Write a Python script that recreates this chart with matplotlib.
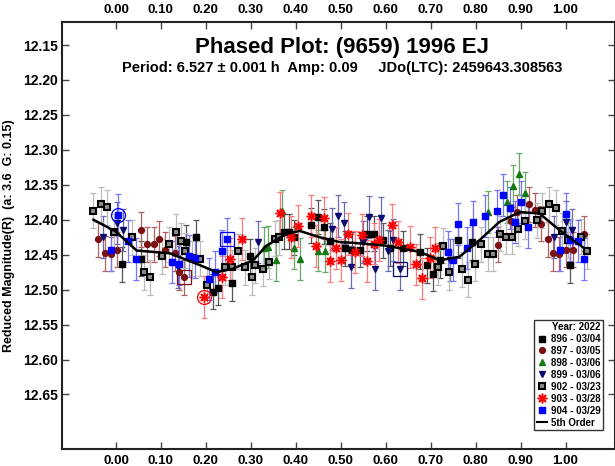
import matplotlib
matplotlib.use("Agg")
import matplotlib.pyplot as plt
from matplotlib.lines import Line2D

plt.rcParams['font.family'] = ['Liberation Sans', 'DejaVu Sans']
plt.rcParams['font.weight'] = 'bold'

# session 896 - 03/04
ph_896 = [0.013, 0.056, 0.156, 0.178, 0.216, 0.228, 0.258, 0.299, 0.373, 0.384, 0.395, 0.434, 0.449,
          0.462, 0.476, 0.51, 0.524, 0.543, 0.558, 0.573, 0.595, 0.61, 0.639, 0.676, 0.691, 0.706,
          0.721, 0.76, 0.791, 1.01]
mg_896 = [12.464, 12.456, 12.432, 12.425, 12.503, 12.497, 12.491, 12.452, 12.417, 12.417, 12.425, 12.408,
          12.396, 12.41, 12.43, 12.441, 12.443, 12.443, 12.42, 12.42, 12.429, 12.441, 12.441, 12.446,
          12.465, 12.477, 12.458, 12.429, 12.432, 12.465]
# session 897 - 03/05
ph_897 = [-0.04, -0.025, -0.012, 0.003, 0.056, 0.069, 0.084, 0.096, 0.11, 0.132, 0.14, 0.152,
          0.85, 0.878, 0.891, 0.918, 0.932, 0.945, 0.96, 0.973, 0.985, 1.0, 1.016, 1.041]
mg_897 = [12.428, 12.448, 12.449, 12.443, 12.414, 12.435, 12.435, 12.427, 12.443, 12.448, 12.475, 12.482,
          12.436, 12.402, 12.389, 12.378, 12.386, 12.406, 12.428, 12.448, 12.449, 12.443, 12.443, 12.42]
# session 898 - 03/06
ph_898 = [0.329, 0.339, 0.356, 0.37, 0.396, 0.409, 0.45, 0.465, 0.828, 0.869, 0.884, 0.897, 0.91]
mg_898 = [12.441, 12.439, 12.457, 12.387, 12.44, 12.456, 12.444, 12.445, 12.389, 12.374, 12.352, 12.335, 12.361]
# session 899 - 03/06
ph_899 = [-0.028, 0.003, 0.015, 0.138, 0.317, 0.481, 0.495, 0.508, 0.523, 0.55, 0.562, 0.576, 0.59,
          0.604, 0.617, 0.632, 0.743, 0.975, 1.002, 1.015]
mg_899 = [12.424, 12.405, 12.415, 12.468, 12.432, 12.413, 12.394, 12.405, 12.468, 12.432, 12.396, 12.47,
          12.398, 12.444, 12.429, 12.471, 12.458, 12.425, 12.403, 12.415]
# session 902 - 03/23
ph_902 = [-0.05, -0.033, -0.02, -0.005, 0.036, 0.062, 0.076, 0.102, 0.118, 0.133, 0.145, 0.153, 0.169,
          0.187, 0.202, 0.243, 0.258, 0.271, 0.286, 0.302, 0.31, 0.326, 0.341, 0.353, 0.362,
          0.717, 0.728, 0.74, 0.77, 0.784, 0.798, 0.812, 0.828, 0.839, 0.854, 0.867, 0.88, 0.895,
          0.91, 0.936, 0.948, 0.963, 0.978, 0.993, 1.006, 1.034, 1.047]
mg_902 = [12.387, 12.378, 12.382, 12.417, 12.425, 12.475, 12.482, 12.452, 12.435, 12.417, 12.43, 12.444, 12.455,
          12.456, 12.494, 12.468, 12.468, 12.445, 12.468, 12.482, 12.465, 12.47, 12.46, 12.427, 12.425,
          12.468, 12.437, 12.475, 12.471, 12.486, 12.463, 12.435, 12.449, 12.449, 12.42, 12.424, 12.424, 12.413,
          12.402, 12.401, 12.387, 12.378, 12.383, 12.416, 12.429, 12.424, 12.445]
# session 903 - 03/28
ph_903 = [0.196, 0.235, 0.254, 0.28, 0.364, 0.39, 0.406, 0.434, 0.445, 0.462, 0.475, 0.489, 0.501,
          0.516, 0.532, 0.547, 0.558, 0.573, 0.584, 0.613, 0.627, 0.654, 0.667, 0.68, 0.699, 0.71]
mg_903 = [12.51, 12.482, 12.456, 12.427, 12.39, 12.425, 12.409, 12.395, 12.437, 12.397, 12.459, 12.441, 12.458,
          12.42, 12.446, 12.422, 12.459, 12.434, 12.429, 12.408, 12.432, 12.439, 12.464, 12.484, 12.454, 12.441]
# session 904 - 03/29
ph_904 = [-0.01, 0.004, 0.027, 0.044, 0.124, 0.141, 0.163, 0.176, 0.208, 0.22, 0.235, 0.247,
          0.738, 0.75, 0.761, 0.78, 0.794, 0.82, 0.847, 0.861, 0.876, 0.887, 0.902, 0.917,
          0.987, 1.0, 1.009, 1.027, 1.042]
mg_904 = [12.443, 12.393, 12.43, 12.456, 12.461, 12.464, 12.452, 12.454, 12.485, 12.475, 12.444, 12.427,
          12.446, 12.458, 12.406, 12.441, 12.403, 12.395, 12.388, 12.365, 12.383, 12.403, 12.374, 12.41,
          12.443, 12.392, 12.429, 12.43, 12.456]

# typical error per session
err = {'896': 0.025, '897': 0.025, '898': 0.03, '899': 0.03, '902': 0.025, '903': 0.03, '904': 0.03}

# 5th order fit
fit_ph = [-0.05, 0.0, 0.046, 0.12, 0.187, 0.224, 0.26, 0.305, 0.335, 0.379, 0.409, 0.453, 0.498,
          0.527, 0.60, 0.676, 0.72, 0.764, 0.809, 0.853, 0.898, 0.942, 0.987, 1.016, 1.04]
fit_mg = [12.40, 12.417, 12.444, 12.448, 12.465, 12.475, 12.47, 12.458, 12.437, 12.42, 12.416, 12.425, 12.432,
          12.433, 12.437, 12.446, 12.458, 12.453, 12.429, 12.403, 12.389, 12.391, 12.415, 12.429, 12.44]

# highlighted points (circle / box)
circ_pts = [('904', 0.004, 12.393), ('903', 0.196, 12.51)]
box_pts = [('904', 0.247, 12.427), ('899', 0.632, 12.471), ('897', 0.152, 12.482)]

labels = ['896 - 03/04', '897 - 03/05', '898 - 03/06', '899 - 03/06', '902 - 03/23', '903 - 03/28', '904 - 03/29']
xticks = [0.0, 0.1, 0.2, 0.3, 0.4, 0.5, 0.6, 0.7, 0.8, 0.9, 1.0]
yticks = [12.15, 12.20, 12.25, 12.30, 12.35, 12.40, 12.45, 12.50, 12.55, 12.60, 12.65]

style = {
    '896': dict(marker='s', mfc='black', mec='black', ecolor='#555555', ms=4.6, mew=1),
    '897': dict(marker='o', mfc='#7a1010', mec='#7a1010', ecolor='#b06060', ms=4.2, mew=1),
    '898': dict(marker='^', mfc='#137a13', mec='#137a13', ecolor='#66aa66', ms=4.8, mew=1),
    '899': dict(marker='v', mfc='#0a0a70', mec='#0a0a70', ecolor='#6a6ab4', ms=4.8, mew=1),
    '902': dict(marker='s', mfc='#8c8c8c', mec='black', ecolor='#bbbbbb', ms=5, mew=1.5),
    '903': dict(marker=(8, 2, 0), mfc='red', mec='red', ecolor='#ff7a7a', ms=7, mew=1.1),
    '904': dict(marker='s', mfc='#0000ff', mec='#0000ff', ecolor='#7474ff', ms=4.6, mew=1),
}
data = [('896', ph_896, mg_896), ('897', ph_897, mg_897), ('898', ph_898, mg_898), ('899', ph_899, mg_899),
        ('902', ph_902, mg_902), ('903', ph_903, mg_903), ('904', ph_904, mg_904)]

fig = plt.figure(figsize=(6.15, 4.66), dpi=100)
ax = fig.add_axes([0.1008, 0.0365, 0.8992, 0.9163])

for key, ph, mg in data:
    s = style[key]
    ax.errorbar(ph, mg, yerr=err[key], fmt='none', ecolor=s['ecolor'], elinewidth=0.9,
                capsize=2.2, capthick=0.9, zorder=2)
for key, ph, mg in data:
    s = style[key]
    ax.plot(ph, mg, linestyle='none', marker=s['marker'], ms=s['ms'], mfc=s['mfc'],
            mec=s['mec'], mew=s['mew'], zorder=3)

for key, p, m in circ_pts:
    ax.plot(p, m, 'o', ms=10, mfc='none', mec=style[key]['mfc'], mew=0.9, zorder=3)
for key, p, m in box_pts:
    ax.plot(p, m, 's', ms=10, mfc='none', mec=style[key]['mfc'], mew=0.9, zorder=3)

ax.plot(fit_ph, fit_mg, color='black', lw=1.8, zorder=4)

ax.set_xlim(-0.12, 1.11)
ax.set_ylim(12.728, 12.117)
ax.set_xticks(xticks)
ax.set_xticklabels(['%.2f' % v for v in xticks])
ax.set_yticks(yticks)
ax.set_yticklabels(['%.2f' % v for v in yticks])
ax.tick_params(axis='x', direction='in', top=True, labeltop=True, length=5, width=1,
               labelsize=9.5, pad=4, color='#444444')
ax.tick_params(axis='y', direction='in', right=True, length=5, width=1, labelsize=10, pad=3,
               color='#444444')
for sp in ax.spines.values():
    sp.set_linewidth(1.5)
    sp.set_color('#222222')

for lab in ax.get_xticklabels() + ax.get_yticklabels():
    lab.set_fontweight('bold')

ax.set_ylabel('Reduced Magnitude(R)  (a: 3.6  G: 0.15)', fontsize=9, fontweight='bold')
ax.yaxis.set_label_coords(-0.085, 0.5)

ax.text(0.507, 0.941, 'Phased Plot: (9659) 1996 EJ', transform=ax.transAxes, ha='center', va='center',
        fontsize=16, fontweight='bold')
ax.text(0.507, 0.893, 'Period: 6.527 \u00b1 0.001 h  Amp: 0.09     JDo(LTC): 2459643.308563',
        transform=ax.transAxes, ha='center', va='center', fontsize=10.5, fontweight='bold')

handles = []
for key in ['896', '897', '898', '899', '902', '903', '904']:
    s = style[key]
    handles.append(Line2D([], [], linestyle='none', marker=s['marker'], ms=s['ms'], mfc=s['mfc'],
                          mec=s['mec'], mew=s['mew']))
handles.append(Line2D([], [], color='black', lw=1.5))
leg = ax.legend(handles, labels + ['5th Order'], title='Year: 2022', loc='lower right',
                bbox_to_anchor=(0.978, 0.0445), borderaxespad=0, fontsize=7,
                title_fontproperties={'weight': 'bold', 'size': 7}, frameon=True, fancybox=False,
                handlelength=1.1, handletextpad=0.35, labelspacing=0.2, borderpad=0.25,
                alignment='right')
leg.get_frame().set_edgecolor('black')
leg.get_frame().set_linewidth(1)
for t in leg.get_texts():
    t.set_fontweight('bold')

fig.savefig('out.png', dpi=100)
